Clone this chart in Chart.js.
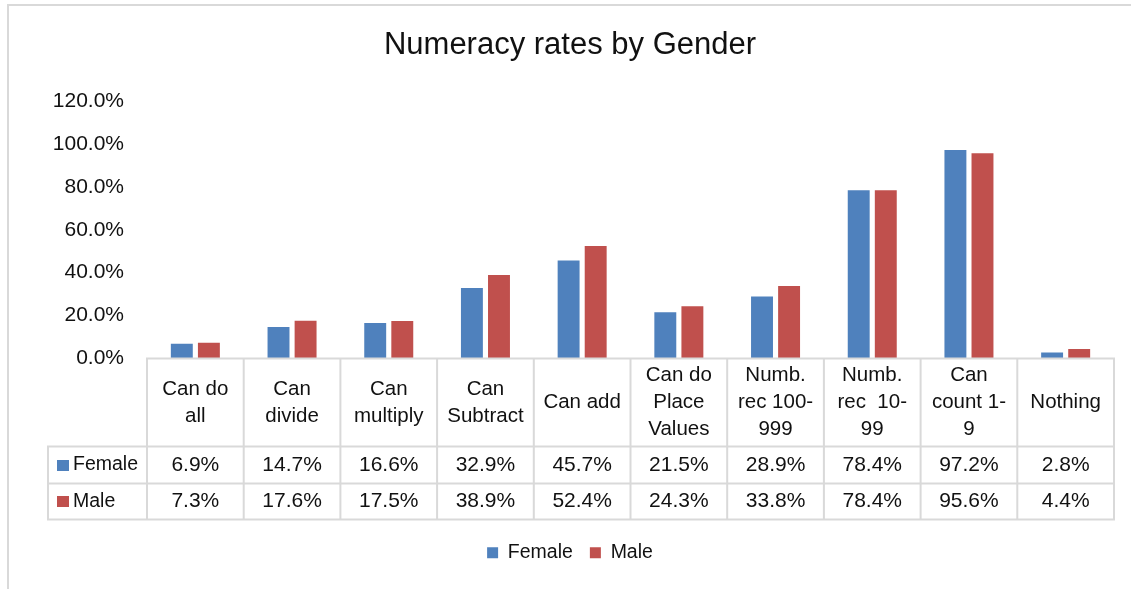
<!DOCTYPE html>
<html>
<head>
<meta charset="utf-8">
<script src="https://cdn.jsdelivr.net/npm/chart.js@4"></script>
<style>
  html, body { margin: 0; padding: 0; background: #fff; }
  #wrap { width: 1131px; height: 589px; position: relative; }
</style>
</head>
<body>
<div id="wrap"><canvas id="numeracy"></canvas></div>
<script>
const categories = [
  ['Can do', 'all'],
  ['Can', 'divide'],
  ['Can', 'multiply'],
  ['Can', 'Subtract'],
  ['Can add'],
  ['Can do', 'Place', 'Values'],
  ['Numb.', 'rec 100-', '999'],
  ['Numb.', 'rec  10-', '99'],
  ['Can', 'count 1-', '9'],
  ['Nothing']
];
const seriesNames = ['Female', 'Male'];
const female = [6.9, 14.7, 16.6, 32.9, 45.7, 21.5, 28.9, 78.4, 97.2, 2.8];
const male = [7.3, 17.6, 17.5, 38.9, 52.4, 24.3, 33.8, 78.4, 95.6, 4.4];
const yTicks = [0, 20, 40, 60, 80, 100, 120];

const FONT = '"Liberation Sans", Arial, sans-serif';
const TEXT = '#111';
const LINE = '#d9d9d9';

Chart.defaults.font.family = FONT;
Chart.defaults.color = TEXT;

const pct = v => v.toFixed(1) + '%';

// frame + data table under the plot
const dataTable = {
  id: 'dataTable',
  beforeDraw(chart) {
    const ctx = chart.ctx;
    ctx.save();
    ctx.strokeStyle = LINE;
    ctx.lineWidth = 2;
    ctx.beginPath();
    ctx.moveTo(8, chart.height);
    ctx.lineTo(8, 5);
    ctx.lineTo(chart.width, 5);
    ctx.stroke();
    ctx.restore();
  },
  afterDraw(chart) {
    const { ctx, chartArea: area, scales: { x } } = chart;
    const n = categories.length;
    const cw = (area.right - area.left) / n;
    const top = area.bottom;
    const hdrB = top + 88, r1B = hdrB + 37, r2B = r1B + 36;
    const left = 48;
    const rows = [[hdrB, r1B], [r1B, r2B]];

    ctx.save();
    ctx.strokeStyle = LINE;
    ctx.lineWidth = 2;
    ctx.lineCap = 'square';
    ctx.beginPath();
    ctx.moveTo(area.left, top); ctx.lineTo(area.right, top);
    [hdrB, r1B, r2B].forEach(y => { ctx.moveTo(left, y); ctx.lineTo(area.right, y); });
    for (let i = 0; i <= n; i++) {
      const xx = area.left + i * cw;
      ctx.moveTo(xx, top); ctx.lineTo(xx, r2B);
    }
    ctx.moveTo(left, hdrB); ctx.lineTo(left, r2B);
    ctx.stroke();

    ctx.fillStyle = TEXT;
    ctx.font = '20.5px ' + FONT;
    ctx.textAlign = 'center';
    ctx.textBaseline = 'middle';
    const mid = (top + hdrB) / 2;
    categories.forEach((lines, i) => {
      const cx = x.getPixelForValue(i);
      lines.forEach((t, k) => {
        ctx.fillText(t, cx, mid + (k - (lines.length - 1) / 2) * 27);
      });
    });

    chart.data.datasets.forEach((ds, k) => {
      const cy = (rows[k][0] + rows[k][1]) / 2;
      ctx.font = '21px ' + FONT;
      ds.data.forEach((v, i) => {
        ctx.fillText(pct(v), x.getPixelForValue(i), cy);
      });
      ctx.fillStyle = ds.backgroundColor;
      ctx.fillRect(57, Math.round(cy - 5.5), 12, 11);
      ctx.fillStyle = TEXT;
      ctx.textAlign = 'left';
      ctx.font = '19.5px ' + FONT;
      ctx.fillText(ds.label, 73, cy);
      ctx.textAlign = 'center';
    });
    ctx.restore();
  }
};

new Chart(document.getElementById('numeracy'), {
  type: 'bar',
  data: {
    labels: categories,
    datasets: [
      { label: seriesNames[0], data: female, backgroundColor: '#4f81bd' },
      { label: seriesNames[1], data: male, backgroundColor: '#c0504d' }
    ]
  },
  options: {
    responsive: true,
    maintainAspectRatio: false,
    animation: false,
    categoryPercentage: 0.56,
    barPercentage: 0.81,
    layout: { padding: { left: 26, right: 17, top: 0, bottom: 16.5 } },
    plugins: {
      title: {
        display: true,
        text: 'Numeracy rates by Gender',
        color: TEXT,
        font: { size: 31, weight: 'normal' },
        padding: { top: 26.4, bottom: 37.4 }
      },
      legend: {
        position: 'bottom',
        labels: { boxWidth: 11, boxHeight: 11, padding: 17, color: TEXT, font: { size: 19.5 } }
      },
      tooltip: { callbacks: { label: c => c.dataset.label + ': ' + pct(c.parsed.y) } }
    },
    scales: {
      x: {
        grid: { display: false, drawTicks: false },
        border: { display: false },
        ticks: { display: false },
        afterFit: s => { s.height = 167.5; }
      },
      y: {
        min: 0,
        max: 120,
        grid: { display: false, drawTicks: false },
        border: { display: false },
        afterBuildTicks: s => { s.ticks = yTicks.map(v => ({ value: v })); },
        afterFit: s => { s.width = 121; },
        ticks: { padding: 23, color: TEXT, font: { size: 21 }, callback: v => pct(v) }
      }
    }
  },
  plugins: [dataTable]
});
</script>
</body>
</html>
